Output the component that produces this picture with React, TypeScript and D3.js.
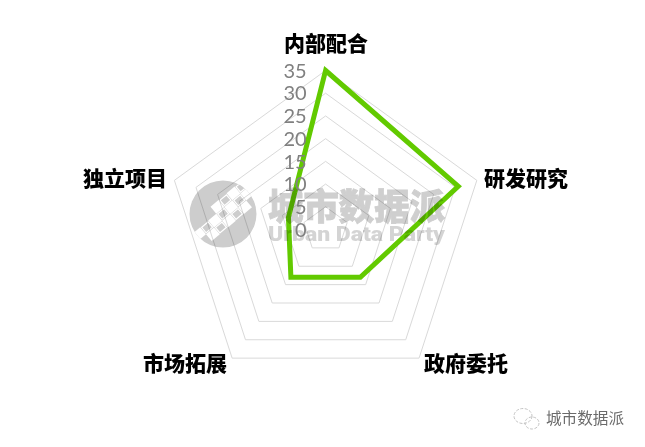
import React from 'react'
import * as d3 from 'd3'

const categories = ['内部配合', '研发研究', '政府委托', '市场拓展', '独立项目']
const values = [35, 30.7, 13, 13, 8.6]
const ticks = [0, 5, 10, 15, 20, 25, 30, 35]

// checker blocks of the watermark logo, as [column, row]
const logoSolid = [
  [-3, 0], [-2, 1], [-1, 0], [0, 1], [0, -1], [1, 0], [2, -1], [2, 1], [3, 0],
]
const logoOpen = [
  [-2, 0], [-1, 1], [0, 0], [1, -1], [1, 1], [2, 0], [3, -1],
]

const width = 645
const height = 447
const cx = 325.6
const cy = 229.5
const cjk = '"Noto Sans CJK SC", sans-serif'

const r = d3.scaleLinear().domain([0, 35]).range([0, 159])
const angle = d3.scalePoint<string>().domain(categories).range([0, (2 * Math.PI * 4) / 5])

const radar = d3.lineRadial<number>()
  .angle((_, i) => angle(categories[i]) as number)
  .radius(d => r(d))
  .curve(d3.curveLinearClosed)

const labelPos = [
  { x: 326, y: 43 },
  { x: 526, y: 178 },
  { x: 466, y: 363 },
  { x: 185, y: 363 },
  { x: 125, y: 178 },
]

export default function App() {
  return (
    <svg width={width} height={height} style={{ position: 'absolute', left: 0, top: 0, background: '#fff' }}>
      <defs>
        <clipPath id="logo-clip">
          <circle cx={223} cy={214} r={33.5} />
        </clipPath>
      </defs>
      <g transform={`translate(${cx},${cy})`}>
        {ticks.slice(1).map(t => (
          <path
            key={t}
            d={radar(categories.map(() => t)) as string}
            fill="none"
            stroke="#d9d9d9"
            strokeWidth={1}
          />
        ))}
        <path
          d={radar(values) as string}
          fill="none"
          stroke="#62ca00"
          strokeWidth={5}
          strokeLinejoin="miter"
        />
      </g>

      {categories.map((c, i) => (
        <text
          key={c}
          x={labelPos[i].x}
          y={labelPos[i].y}
          dy="0.36em"
          textAnchor="middle"
          fontFamily={cjk}
          fontWeight={900}
          fontSize={21}
          fill="#000"
        >
          {c}
        </text>
      ))}

      {/* watermark */}
      <g style={{ mixBlendMode: 'multiply' }}>
        <circle cx={223} cy={214} r={33.5} fill="#cdcdcd" />
        <g clipPath="url(#logo-clip)">
          <g transform="translate(223,214) rotate(-40)">
            {logoSolid.map(([col, row], i) => (
              <rect key={i} x={col * 10.5 - 5} y={row * 9 - 4.5} width={10.5} height={9} fill="#fff" />
            ))}
            {logoOpen.map(([col, row], i) => (
              <rect
                key={i}
                x={col * 10.5 - 4}
                y={row * 9 - 3.5}
                width={8.5}
                height={7}
                fill="#cdcdcd"
                stroke="#fff"
                strokeWidth={1.2}
              />
            ))}
          </g>
        </g>
        <text
          x={268}
          y={220}
          fontFamily={cjk}
          fontWeight={900}
          fontSize={36}
          textLength={177}
          lengthAdjust="spacingAndGlyphs"
          fill="#cfcfcf"
          stroke="#cfcfcf"
          strokeWidth={0.8}
        >
          城市数据派
        </text>
        <text
          x={268}
          y={241}
          fontFamily="Roboto, sans-serif"
          fontWeight={900}
          fontSize={21}
          textLength={177}
          lengthAdjust="spacingAndGlyphs"
          fill="#d4d4d4"
        >
          Urban Data Party
        </text>
      </g>

      <g transform={`translate(${cx},${cy})`}>
        {ticks.map(t => (
          <text
            key={t}
            x={-19}
            y={-r(t)}
            dy="0.36em"
            textAnchor="end"
            fontFamily="Lato, sans-serif"
            fontWeight={400}
            fontSize={20}
            fill="#808080"
          >
            {t}
          </text>
        ))}
      </g>

      {/* footer */}
      <g fill="none" stroke="#c4c4c4" strokeWidth={1} strokeDasharray="3 1.5">
        <ellipse cx={523} cy={416} rx={9} ry={7.5} />
        <ellipse cx={532} cy={423} rx={7} ry={6} />
      </g>
      <text x={546} y={424} fontFamily={cjk} fontSize={15.6} fill="#6a6a6a">
        城市数据派
      </text>
    </svg>
  )
}
